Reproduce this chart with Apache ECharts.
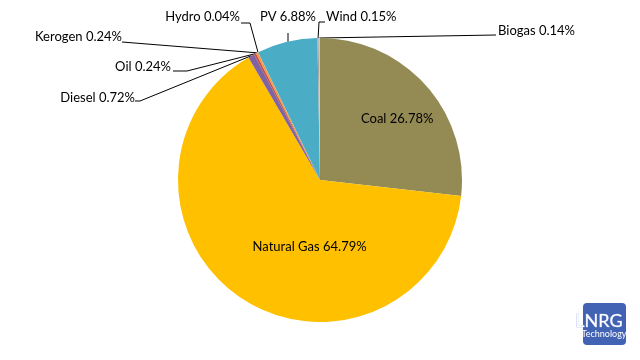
<!DOCTYPE html>
<html><head><meta charset="utf-8">
<script src="https://cdn.jsdelivr.net/npm/echarts@6/dist/echarts.min.js"></script>
<style>html,body{margin:0;padding:0;background:#fff}#c{width:640px;height:360px}</style>
</head><body><div id="c"></div>
<script>
const categories = ['Coal','Natural Gas','Diesel','Oil','Kerogen','Hydro','PV','Wind','Biogas'];
const values = [26.78, 64.79, 0.72, 0.24, 0.24, 0.04, 6.88, 0.15, 0.14];
const colors = ['#948A54','#FFC000','#8064A2','#C0504D','#F79646','#9BBB59','#4BACC6','#A5A5A5','#C8C8C8'];

// label placement (style only)
const labelPlace = {
  0: {inside: true, dx: 22, dy: -12},
  1: {inside: true, dx: 30, dy: 5},
  2: {x: 135, y: 98, align: 'right', bend: [[140,101]], end: [135,101]},
  3: {x: 171, y: 67, align: 'right', bend: [[187,71]], end: [173,71]},
  4: {x: 122, y: 37, align: 'right', bend: [], end: [122,42]},
  5: {x: 240, y: 17, align: 'right', bend: [[250,23]], end: [241,23]},
  6: {x: 288, y: 17, align: 'center', bend: [], end: [288,33], vertical: true},
  7: {x: 326, y: 17, align: 'left', bend: [[319,22]], end: [325,22]},
  8: {x: 498, y: 31, align: 'left', bend: [], end: [496,35]}
};

const chart = echarts.init(document.getElementById('c'), null, {renderer: 'canvas'});
const data = categories.map((n, i) => ({
  name: n, value: values[i],
  itemStyle: {color: colors[i]},
  label: {position: labelPlace[i].inside ? 'inside' : 'outside'},
  labelLine: {show: !labelPlace[i].inside}
}));
chart.setOption({
  animation: false,
  series: [{
    type: 'pie',
    center: [320, 180],
    radius: [0, 142],
    startAngle: 90,
    clockwise: true,
    avoidLabelOverlap: false,
    data: data,
    label: {
      show: true,
      formatter: p => p.name + ' ' + p.value.toFixed(2) + '%',
      fontFamily: 'Lato',
      fontSize: 13,
      color: '#000'
    },
    labelLine: {show: true, length: 10, length2: 10, lineStyle: {color: '#000', width: 1}},
    emphasis: {disabled: true},
    labelLayout: function (params) {
      const lp = labelPlace[params.dataIndex];
      if (lp.inside) return {dx: lp.dx, dy: lp.dy};
      const start = params.labelLinePoints ? params.labelLinePoints[0] : [320, 38];
      let pts = [start].concat(lp.bend).concat([lp.end]);
      if (lp.vertical) pts = [[lp.end[0], start[1]], lp.end];
      return {
        x: lp.x, y: lp.y, align: lp.align, verticalAlign: 'middle',
        labelLinePoints: pts
      };
    }
  }],
  graphic: [
    {type: 'rect', shape: {x: 583, y: 303, width: 43, height: 42, r: 4}, style: {fill: '#4262B4'}},
    {type: 'text', style: {x: 599, y: 321, text: 'LNRG', fill: '#fff', stroke: '#9fb0dd', lineWidth: 0.6, font: '18px Lato', align: 'center', verticalAlign: 'middle'}},
    {type: 'text', style: {x: 604, y: 334, text: 'Technology', fill: '#fff', font: '9px Lato', align: 'center', verticalAlign: 'middle'}}
  ]
});
</script></body></html>
